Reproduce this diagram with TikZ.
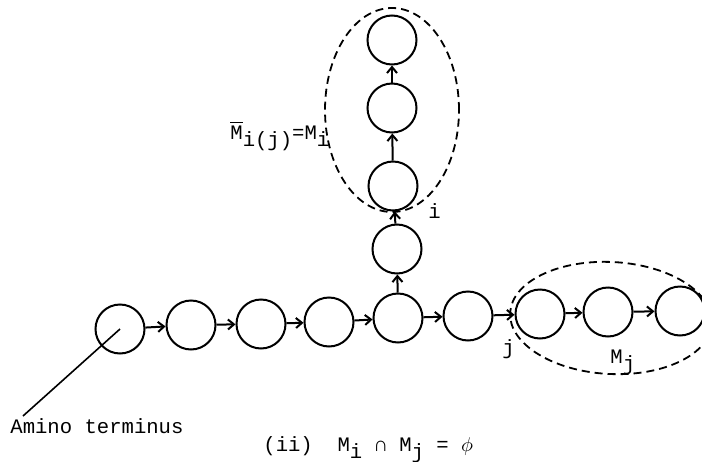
\documentclass[tikz,border=0pt]{standalone}
\usepackage{fontspec}
\setmainfont{Liberation Mono}
\usepackage{tikz}
\usetikzlibrary{positioning,arrows.meta}
\newcommand{\lowr}[1]{\raisebox{-0.35em}{#1}}

\begin{document}
\begin{tikzpicture}[x=0.5pt, y=-0.5pt, font=\fontsize{10.3}{12}\selectfont,
  res/.style={circle, draw, line width=1pt, minimum size=24.5pt, inner sep=0pt},
  link/.style={line width=1pt, -{Straight Barb[length=3pt, width=5pt]}},
  region/.style={line width=0.9pt, dash pattern=on 4pt off 2.5pt},
  lbl/.style={inner sep=0pt, anchor=base west}]
  \useasboundingbox (0,0) rectangle (702,461);

  % main chain
  \node[res] (r1) at (120,329) {};
  \node[res] (r2) at (191,325) {};
  \node[res] (r3) at (261,324) {};
  \node[res] (r4) at (329,322) {};
  \node[res] (r5) at (398,318) {};
  \node[res] (r6) at (468,316) {};
  \node[res] (r7) at (540,314) {};
  \node[res] (r8) at (608,312) {};
  \node[res] (r9) at (680,311) {};

  % side chain
  \node[res] (b1) at (397,249) {};
  \node[res] (b2) at (393,186) {};
  \node[res] (b3) at (392,108) {};
  \node[res] (b4) at (392,40) {};

  % links
  \draw[link] (r1) -- (r2);
  \draw[link] (r2) -- (r3);
  \draw[link] (r3) -- (r4);
  \draw[link] (r4) -- (r5);
  \draw[link] (r5) -- (r6);
  \draw[link] (r6) -- (r7);
  \draw[link] (r7) -- (r8);
  \draw[link] (r8) -- (r9);
  \draw[link] (r5) -- (b1);
  \draw[link] (b1) -- (b2);
  \draw[link] (b2) -- (b3);
  \draw[link] (b3) -- (b4);

  % dashed regions
  \draw[region] (392,110) ellipse [x radius=33.5pt, y radius=51pt];
  \draw[region, rotate around={-3:(611,318)}] (611,318) ellipse [x radius=50.5pt, y radius=28pt];

  % labels
  \node[lbl] (mi) at (230,139) {$\overline{\mbox{M}}$\lowr{i(j)}=M\lowr{i}};
  \node[lbl] (li) at (428,218) {i};
  \node[lbl] (lj) at (502,354) {j};
  \node[lbl] (mj) at (610,363) {M\lowr{j}};
  \node[lbl] (amino) at (10,433) {Amino terminus};
  \coordinate (lead) at (23,416);
  \draw[line width=0.8pt] (lead) -- (r1.center);
  \node[lbl] (cap) at (263,451) {(ii)\ \ M\lowr{i} ∩ M\lowr{j} = $\phi$};
\end{tikzpicture}
\end{document}
